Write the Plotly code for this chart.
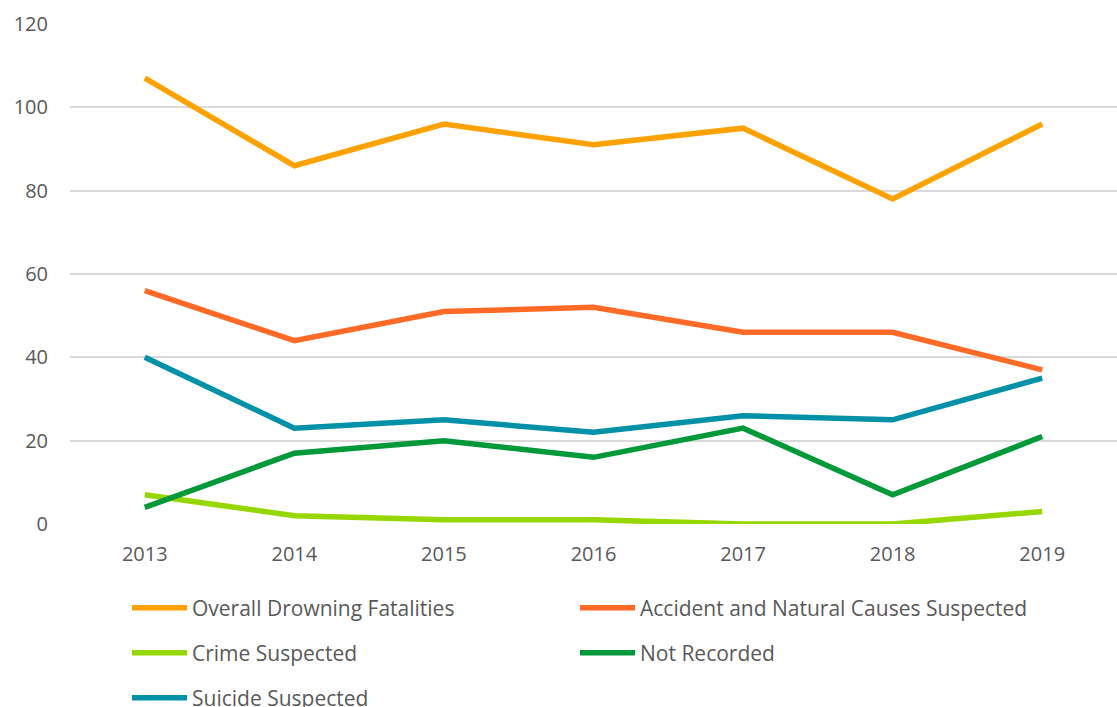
import plotly.graph_objects as go

years = ["2013", "2014", "2015", "2016", "2017", "2018", "2019"]
overall = [107, 86, 96, 91, 95, 78, 96]
accident = [56, 44, 51, 52, 46, 46, 37]
crime = [7, 2, 1, 1, 0, 0, 3]
not_recorded = [4, 17, 20, 16, 23, 7, 21]
suicide = [40, 23, 25, 22, 26, 25, 35]

series_names = ["Overall Drowning Fatalities", "Accident and Natural Causes Suspected",
                "Crime Suspected", "Not Recorded", "Suicide Suspected"]
series_values = [overall, accident, crime, not_recorded, suicide]
series_colors = ["#FFA200", "#FF6B26", "#97D700", "#00993A", "#0091A8"]

# legend placement (pixel positions of the legend line start / row centre)
legend_cols = [133, 581, 133, 581, 133]
legend_rows = [608, 608, 653, 653, 698]

W, H = 1117, 707
font_family = "Open Sans, Liberation Sans, sans-serif"
text_color = "#595959"

fig = go.Figure()
layout_legends = {}
for i, (name, vals, color) in enumerate(zip(series_names, series_values, series_colors)):
    key = "legend" if i == 0 else f"legend{i + 1}"
    fig.add_trace(go.Scatter(
        x=years, y=vals, name=name, mode="lines",
        line=dict(color=color, width=5.5),
        legend=key,
    ))
    layout_legends[key] = dict(
        orientation="h", xref="container", yref="container",
        xanchor="left", yanchor="middle",
        x=(legend_cols[i] - 6) / W, y=1 - legend_rows[i] / H,
        font=dict(family=font_family, size=21, color=text_color),
        bgcolor="rgba(0,0,0,0)", itemwidth=55,
    )

fig.update_layout(
    width=W, height=H,
    margin=dict(l=70, r=0, t=24, b=183),
    paper_bgcolor="white", plot_bgcolor="white",
    font=dict(family=font_family, color=text_color),
    xaxis=dict(
        type="category", range=[-0.5, 6.5], showgrid=False, zeroline=False,
        showline=False, ticks="", tickfont=dict(size=20, color=text_color),
        ticklabelstandoff=16,
    ),
    yaxis=dict(
        range=[0, 120], dtick=20, showgrid=True, gridcolor="#D9D9D9", gridwidth=1.5,
        zeroline=False, showline=False, ticks="",
        tickfont=dict(size=20, color=text_color), ticklabelstandoff=21,
    ),
    showlegend=True,
    **layout_legends,
)

fig.write_html(
    "out.html",
    config={"displayModeBar": False},
    post_script="document.body.style.margin='0';document.body.style.overflow='hidden';",
)
